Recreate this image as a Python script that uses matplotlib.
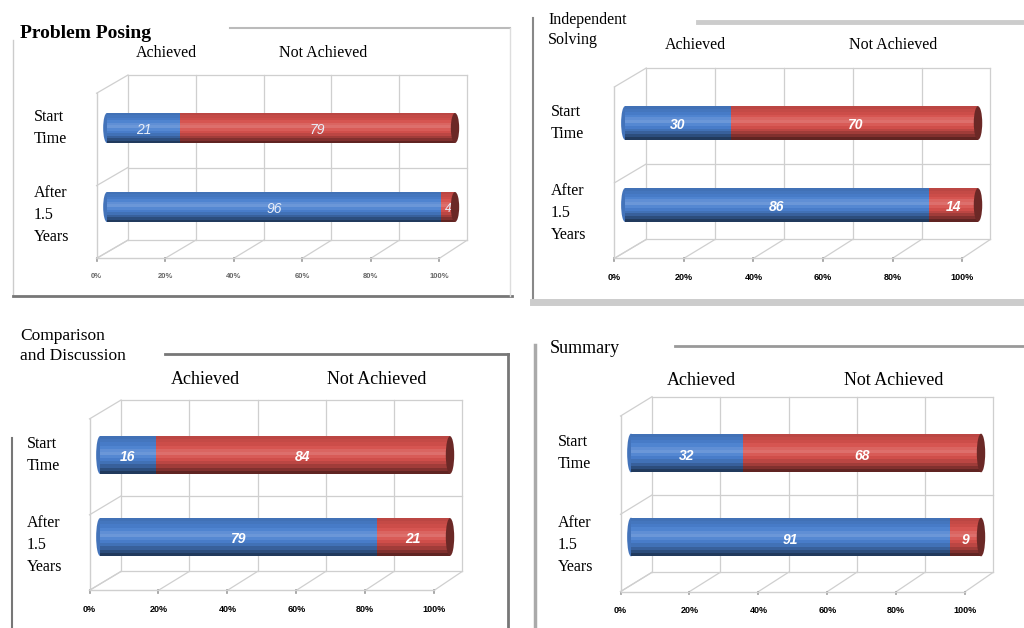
import numpy as np
import matplotlib
matplotlib.use("Agg")
import matplotlib.pyplot as plt
from matplotlib.patches import Ellipse
from matplotlib.colors import to_rgb

# data: percent achieved / not achieved per stage
titles = ["Problem Posing", "Independent\nSolving", "Comparison\nand Discussion", "Summary"]
stages = ["Start\nTime", "After\n1.5\nYears"]
achieved = [[21, 96], [30, 86], [16, 79], [32, 91]]
not_achieved = [[79, 4], [70, 14], [84, 21], [68, 9]]
ticks = [0, 20, 40, 60, 80, 100]
tick_labels = ["0%", "20%", "40%", "60%", "80%", "100%"]

BLUE = "#4a80cf"
RED = "#d5504c"
GRID = "#cfcfcf"
W, H = 1024, 628

# per-panel layout in pixels: bar 0% x, bar 100% x, start y, after y
layout = [
    dict(x0=107, x1=455, ys=128, ya=207, bh=0.38, leg=(17, 62), legy=1.95, fs=11.5, tfs=14, tw="bold",
         tx=20, ty=25, lab_fs=5.5, lab_c="#666666", val_w="normal", val_c="#e8eef8"),
    dict(x0=625, x1=978, ys=123, ya=205, bh=0.41, leg=(20, 76), legy=1.95, fs=11.5, tfs=11.5, tw="normal",
         tx=548, ty=12, lab_fs=6.5, lab_c="black", val_w="bold", val_c="white"),
    dict(x0=100, x1=450, ys=455, ya=537, bh=0.46, leg=(30, 79), legy=1.92, fs=13, tfs=12.5, tw="normal",
         tx=20, ty=328, lab_fs=6.5, lab_c="black", val_w="bold", val_c="white"),
    dict(x0=631, x1=981, ys=453, ya=537, bh=0.46, leg=(20, 75), legy=1.86, fs=13, tfs=13, tw="normal",
         tx=550, ty=340, lab_fs=6.5, lab_c="black", val_w="bold", val_c="white"),
]

# brightness profile across the cylinder, bottom -> top
profile = [0.45, 0.6, 0.75, 0.88, 0.97, 1.06, 1.18, 1.12, 1.03, 0.96, 0.92, 0.88]


def shade(c, f):
    c = np.array(to_rgb(c))
    if f < 1:
        return tuple(c * f)
    return tuple(c + (1 - c) * (f - 1))


def cylinder(ax, y, left, width, color, h):
    n = len(profile)
    sh = h / n
    for i, f in enumerate(profile):
        # stripes overlap a bit so no seams show
        hh = sh * (1.6 if i < n - 1 else 1.0)
        ax.barh(y - h / 2 + sh * i + hh / 2, width, height=hh, left=left,
                color=shade(color, f), linewidth=0, zorder=3 + i * 0.01)


plt.rcParams["font.family"] = ["Liberation Serif", "DejaVu Serif"]
fig = plt.figure(figsize=(W / 100, H / 100), dpi=100)
fig.patch.set_facecolor("white")

XL, XR = -12, 114
YB, YT = -1.0, 1.75
BACK_DX, FRONT_DX = 6, -3
BACK_K, FRONT_K = 0.975, 0.985
BACK_TOP, BACK_BOT, FRONT_Y, TICK_Y = 1.67, -0.42, -0.65, -0.88
cat_y = [1, 0]

for p, L in enumerate(layout):
    sx = (L["x1"] - L["x0"]) / 100.0
    sy = L["ya"] - L["ys"]
    left = L["x0"] + XL * sx
    right = L["x0"] + XR * sx
    top = L["ya"] - YT * sy
    bottom = L["ya"] - YB * sy
    ax = fig.add_axes([left / W, 1 - bottom / H, (right - left) / W, (bottom - top) / H])
    ax.set_xlim(XL, XR)
    ax.set_ylim(YB, YT)
    ax.axis("off")
    BH = L["bh"]

    def bx(t):
        return t * BACK_K + BACK_DX

    def fx(t):
        return t * FRONT_K + FRONT_DX

    # back wall, floor and side wall
    for t in ticks:
        ax.plot([bx(t), bx(t)], [BACK_BOT, BACK_TOP], color=GRID, lw=0.9, zorder=1)
        ax.plot([fx(t), bx(t)], [FRONT_Y, BACK_BOT], color=GRID, lw=0.9, zorder=1)
        ax.plot([fx(t)] * 2, [FRONT_Y, FRONT_Y - 0.03], color="#999999", lw=1.2, zorder=1)
    for yy in [BACK_BOT, 0.5, BACK_TOP]:
        ax.plot([bx(0), bx(100)], [yy, yy], color=GRID, lw=0.9, zorder=1)
        ax.plot([fx(0), bx(0)], [yy - (BACK_BOT - FRONT_Y), yy], color=GRID, lw=0.9, zorder=1)
    ax.plot([fx(0), fx(100)], [FRONT_Y, FRONT_Y], color=GRID, lw=1.0, zorder=1)
    ax.plot([fx(0), fx(0)], [FRONT_Y, BACK_TOP - (BACK_BOT - FRONT_Y)], color=GRID, lw=1.0, zorder=1)

    for t, tl in zip(ticks, tick_labels):
        ax.text(fx(t), TICK_Y, tl, ha="center", va="center", fontsize=L["lab_fs"],
                color=L["lab_c"], fontweight="bold", family=["Liberation Sans"])

    # bars
    for k, yc in enumerate(cat_y):
        a = achieved[p][k]
        n = not_achieved[p][k]
        ax.add_patch(Ellipse((0, yc), 2.2, BH, color=shade(BLUE, 0.9), zorder=2.9, lw=0))
        cylinder(ax, yc, 0, a, BLUE, BH)
        cylinder(ax, yc, a, n, RED, BH)
        ax.add_patch(Ellipse((a + n, yc), 2.4, BH, color=shade(RED, 0.5), zorder=4, lw=0))
        ax.text(a / 2, yc - 0.03, str(a), ha="center", va="center", fontsize=10,
                color=L["val_c"], fontweight=L["val_w"], style="italic",
                family=["Liberation Sans"], zorder=5)
        ax.text(a + n / 2, yc - 0.03, str(n), ha="center", va="center", fontsize=10 if n > 5 else 8.5,
                color=L["val_c"], fontweight=L["val_w"], style="italic",
                family=["Liberation Sans"], zorder=5)
        ax.text(-21, yc - (0.1 if k else 0), stages[k], ha="left", va="center", fontsize=11.5,
                linespacing=1.5, clip_on=False)

    # legend headers
    ax.text(L["leg"][0], L["legy"], "Achieved", ha="center", va="center", fontsize=L["fs"], clip_on=False)
    ax.text(L["leg"][1], L["legy"], "Not Achieved", ha="center", va="center", fontsize=L["fs"], clip_on=False)

    fig.text(L["tx"] / W, 1 - L["ty"] / H, titles[p], ha="left", va="top", fontsize=L["tfs"],
             fontweight=L["tw"], linespacing=1.35)


# panel frames
def fline(x, y, c, lw):
    fig.add_artist(plt.Line2D([v / W for v in x], [1 - v / H for v in y], color=c, lw=lw))


fline([230, 510], [28, 28], "#bbbbbb", 1.5)
fline([13, 13], [40, 296], "#cccccc", 1.0)
fline([13, 512], [296, 296], "#777777", 2.0)
fline([510, 510], [28, 296], "#dddddd", 1.0)

fline([533, 533], [18, 302], "#888888", 1.5)
fline([698, 1024], [22, 22], "#cccccc", 3.5)
fline([533, 1024], [302, 302], "#cccccc", 5.0)

fline([165, 508], [354, 354], "#777777", 2.0)
fline([508, 508], [354, 628], "#777777", 2.0)
fline([12, 12], [438, 628], "#777777", 1.5)

fline([675, 1024], [346, 346], "#999999", 2.0)
fline([535, 535], [345, 628], "#aaaaaa", 2.5)

fig.savefig("out.png", dpi=100)
